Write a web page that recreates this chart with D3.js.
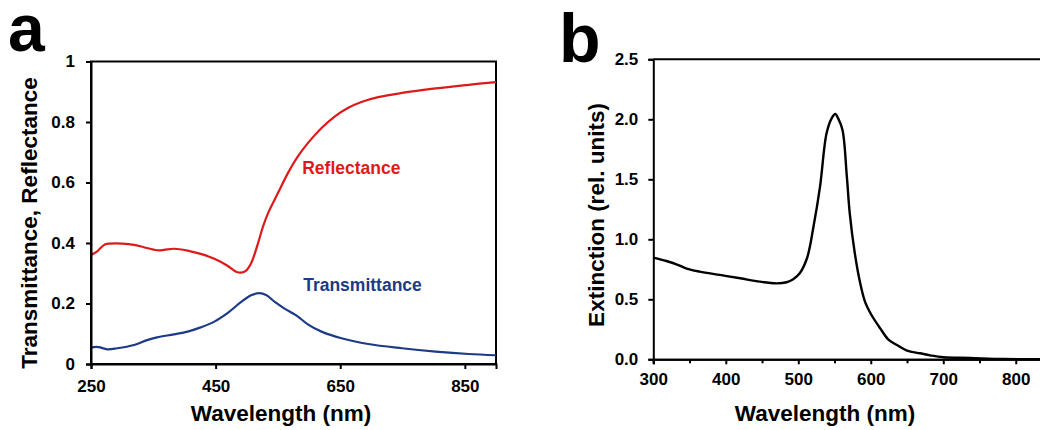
<!DOCTYPE html>
<html>
<head>
<meta charset="utf-8">
<script src="https://cdn.jsdelivr.net/npm/d3@7"></script>
<style>
  html, body { margin: 0; padding: 0; background: #fff; }
  svg { display: block; font-family: "Liberation Sans", Arial, sans-serif; }
</style>
</head>
<body>
<svg id="chart" width="1040" height="430"></svg>
<script>
// ---------- Panel a data ----------
const reflWl  = [250,260,265,273,281,300,319,335,356,367,383,405,426,448,469,483,491,499,507,518,526,534,550,566,582,598,620,641,663,684,711,749,803,856,900];
const reflVal = [0.360,0.372,0.383,0.396,0.398,0.398,0.394,0.386,0.376,0.377,0.381,0.375,0.364,0.348,0.325,0.305,0.302,0.309,0.333,0.399,0.454,0.498,0.565,0.631,0.686,0.730,0.780,0.818,0.847,0.866,0.882,0.896,0.911,0.923,0.932];
const transWl  = [250,262,276,292,319,340,356,383,405,426,448,469,491,507,520,531,545,560,580,598,620,652,695,749,803,856,900];
const transVal = [0.055,0.056,0.0485,0.052,0.063,0.079,0.088,0.098,0.107,0.121,0.140,0.168,0.205,0.227,0.234,0.228,0.205,0.184,0.160,0.131,0.107,0.085,0.066,0.052,0.041,0.033,0.029];
const xTicksA = [250,450,650,850];
const yTicksA = [0,0.2,0.4,0.6,0.8,1];
const yTickLabelsA = ["0","0.2","0.4","0.6","0.8","1"];

// ---------- Panel b data ----------
const extWl  = [300,318,332,346,364,392,420,447,470,484,493,502,512,521,530,539,546,551,555,561,567,571,578,585,592,601,613,624,636,650,668,682,700,737,783,834,850];
const extVal = [0.847,0.819,0.792,0.756,0.731,0.703,0.675,0.647,0.633,0.642,0.667,0.717,0.842,1.106,1.439,1.883,2.008,2.044,2.008,1.911,1.522,1.217,0.883,0.647,0.481,0.369,0.258,0.167,0.119,0.072,0.050,0.033,0.017,0.011,0.003,0.0,0.0];
const xTicksB = [300,400,500,600,700,800];
const xMinorB = [350,450,550,650,750];
const yTicksB = [0,0.5,1.0,1.5,2.0,2.5];
const yTickLabelsB = ["0.0","0.5","1.0","1.5","2.0","2.5"];

const svg = d3.select("#chart");
const RED = "#dd1a1a", NAVY = "#1c3a86";
const TITLE = 22.5, TICK = 17;

function styleAxis(g) {
  g.selectAll(".domain").attr("stroke", "#000").attr("stroke-width", 2);
  g.selectAll(".tick line").attr("stroke", "#000").attr("stroke-width", 2);
  g.selectAll(".tick text").attr("fill", "#000").attr("font-size", TICK).attr("font-weight", "bold")
    .attr("font-family", "'Liberation Sans', Arial, sans-serif");
}

// ================= Panel a =================
{
  const x = d3.scaleLinear().domain([250, 900]).range([91, 496]);
  const y = d3.scaleLinear().domain([0, 1]).range([364, 61.5]);

  svg.append("rect").attr("x", 91).attr("y", 61.5).attr("width", 405).attr("height", 302.5)
    .attr("fill", "none").attr("stroke", "#000").attr("stroke-width", 2);

  const line = d3.line().x(d => x(d[0])).y(d => y(d[1])).curve(d3.curveCatmullRom);
  svg.append("path").datum(reflWl.map((w, i) => [w, reflVal[i]]))
    .attr("d", line).attr("fill", "none").attr("stroke", RED).attr("stroke-width", 2.2);
  svg.append("path").datum(transWl.map((w, i) => [w, transVal[i]]))
    .attr("d", line).attr("fill", "none").attr("stroke", NAVY).attr("stroke-width", 2.2);

  svg.append("g").attr("transform", "translate(0,364)")
    .call(d3.axisBottom(x).tickValues(xTicksA).tickSize(5).tickPadding(11).tickFormat(d3.format("d")))
    .call(styleAxis);
  svg.append("g").attr("transform", "translate(91,0)")
    .call(d3.axisLeft(y).tickValues(yTicksA).tickSize(5).tickPadding(11).tickFormat((d, i) => yTickLabelsA[i]))
    .call(styleAxis);

  svg.append("text").attr("x", x(589)).attr("y", y(0.628)).text("Reflectance")
    .attr("fill", RED).attr("font-size", 17.5).attr("font-weight", "bold");
  svg.append("text").attr("x", x(590.5)).attr("y", y(0.241)).text("Transmittance")
    .attr("fill", NAVY).attr("font-size", 17.5).attr("font-weight", "bold");

  svg.append("text").attr("x", 281).attr("y", 421).attr("text-anchor", "middle")
    .attr("font-size", TITLE).attr("font-weight", "bold").text("Wavelength (nm)");
  svg.append("text").attr("transform", "translate(37,223) rotate(-90)").attr("text-anchor", "middle")
    .attr("font-size", TITLE).attr("font-weight", "bold").text("Transmittance, Reflectance");

  svg.append("text").attr("x", 8).attr("y", 51).attr("font-size", 66).attr("font-weight", "bold").text("a");
}

// ================= Panel b =================
{
  const x = d3.scaleLinear().domain([300, 850]).range([653.3, 1052]);
  const y = d3.scaleLinear().domain([0, 2.5]).range([359.3, 59.3]);

  svg.append("line").attr("x1", 653.3).attr("x2", 1052).attr("y1", 59.3).attr("y2", 59.3)
    .attr("stroke", "#000").attr("stroke-width", 2);

  const line = d3.line().x(d => x(d[0])).y(d => y(d[1])).curve(d3.curveCatmullRom);
  svg.append("path").datum(extWl.map((w, i) => [w, extVal[i]]))
    .attr("d", line).attr("fill", "none").attr("stroke", "#000").attr("stroke-width", 2.4);

  svg.append("g").attr("transform", "translate(0,359.3)")
    .call(d3.axisBottom(x).tickValues(xMinorB).tickSize(4).tickFormat(""))
    .call(styleAxis);
  svg.append("g").attr("transform", "translate(0,359.3)")
    .call(d3.axisBottom(x).tickValues(xTicksB).tickSize(5).tickPadding(9).tickFormat(d3.format("d")))
    .call(styleAxis);
  svg.append("g").attr("transform", "translate(653.3,0)")
    .call(d3.axisLeft(y).tickValues(yTicksB).tickSize(5).tickPadding(10).tickFormat((d, i) => yTickLabelsB[i]))
    .call(styleAxis);

  svg.append("text").attr("x", 825).attr("y", 421).attr("text-anchor", "middle")
    .attr("font-size", TITLE).attr("font-weight", "bold").text("Wavelength (nm)");
  svg.append("text").attr("transform", "translate(604,215) rotate(-90)").attr("text-anchor", "middle")
    .attr("font-size", TITLE).attr("font-weight", "bold").text("Extinction (rel. units)");

  svg.append("text").attr("x", 559).attr("y", 62).attr("font-size", 68).attr("font-weight", "bold").text("b");
}
</script>
</body>
</html>
